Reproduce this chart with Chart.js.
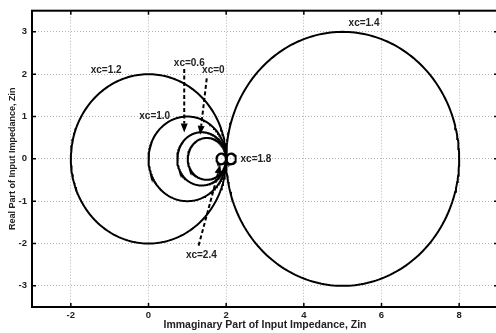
<!DOCTYPE html>
<html>
<head>
<meta charset="utf-8">
<script src="https://cdn.jsdelivr.net/npm/chart.js@4.4.1/dist/chart.umd.min.js"></script>
<style>
  html, body { margin: 0; padding: 0; background: #fff; overflow: hidden; }
  #wrap { width: 496px; height: 333px; overflow: hidden; }
  canvas { display: block; }
</style>
</head>
<body>
<div id="wrap"><canvas id="c" width="498" height="333"></canvas></div>
<script>
// Impedance loci for several values of xc; each locus is a circle whose
// diameter lies on the horizontal axis between these two crossings.
const seriesNames = ['xc=0', 'xc=0.6', 'xc=1.0', 'xc=1.2', 'xc=1.4', 'xc=1.8', 'xc=2.4'];
const crossLeft   = [1.01, 0.74, 0.0, -2.0, 2.0, 2.0, 1.75];
const crossRight  = [2.0,  2.0,  2.0,  2.0, 8.0, 2.25, 2.0];

const xTicks = [-2, 0, 2, 4, 6, 8];
const yTicks = [-3, -2, -1, 0, 1, 2, 3];

// Curve labels: text and anchor (data units)
const labelText = ['xc=1.2', 'xc=1.0', 'xc=0.6', 'xc=0', 'xc=1.4', 'xc=1.8', 'xc=2.4'];
const labelX    = [-1.09, 0.16, 1.05, 1.67, 5.55, 2.37, 1.36];
const labelY    = [2.09, 1.01, 2.27, 2.09, 3.21, -0.02, -2.27];
const labelAlign = ['center', 'center', 'center', 'center', 'center', 'left', 'center'];

// Dashed pointer arrows: start -> tip (data units)
const arrowFromX = [0.92, 1.50, 1.29];
const arrowFromY = [2.12, 1.90, -2.05];
const arrowToX   = [0.92, 1.33, 1.85];
const arrowToY   = [0.62, 0.57, -0.14];

const FONT = "'Liberation Sans', Arial, Helvetica, sans-serif";

function circleOutline(a, b) {
  const cx = (a + b) / 2, r = (b - a) / 2, pts = [];
  const n = 240;
  for (let i = 0; i <= n; i++) {
    const t = (i / n) * 2 * Math.PI;
    pts.push({ x: cx + r * Math.cos(t), y: r * Math.sin(t) });
  }
  return pts;
}

const datasets = seriesNames.map((name, i) => ({
  label: name,
  data: circleOutline(crossLeft[i], crossRight[i]),
  showLine: true,
  borderColor: '#000',
  borderWidth: 2,
  pointRadius: 0,
  fill: false,
  tension: 0
}));

const framePlugin = {
  id: 'frame',
  afterDatasetsDraw(chart) {
    const { ctx, chartArea: a, scales: { x, y } } = chart;
    ctx.save();
    // annotation arrows
    ctx.strokeStyle = '#000';
    ctx.fillStyle = '#000';
    for (let i = 0; i < arrowFromX.length; i++) {
      const x0 = x.getPixelForValue(arrowFromX[i]), y0 = y.getPixelForValue(arrowFromY[i]);
      const x1 = x.getPixelForValue(arrowToX[i]),   y1 = y.getPixelForValue(arrowToY[i]);
      const ang = Math.atan2(y1 - y0, x1 - x0);
      const headLen = 9, headW = 3.5;
      const bx = x1 - headLen * Math.cos(ang), by = y1 - headLen * Math.sin(ang);
      ctx.lineWidth = 2;
      ctx.setLineDash([4, 2.5]);
      ctx.beginPath(); ctx.moveTo(x0, y0); ctx.lineTo(bx, by); ctx.stroke();
      ctx.setLineDash([]);
      ctx.beginPath();
      ctx.moveTo(x1, y1);
      ctx.lineTo(bx + headW * Math.sin(ang), by - headW * Math.cos(ang));
      ctx.lineTo(bx - headW * Math.sin(ang), by + headW * Math.cos(ang));
      ctx.closePath(); ctx.fill();
    }
    // curve labels
    ctx.font = 'bold 10px ' + FONT;
    ctx.textBaseline = 'middle';
    ctx.fillStyle = '#222';
    for (let i = 0; i < labelText.length; i++) {
      ctx.textAlign = labelAlign[i];
      ctx.fillText(labelText[i], x.getPixelForValue(labelX[i]), y.getPixelForValue(labelY[i]));
    }
    // axes box with inward tick marks
    ctx.strokeStyle = '#000';
    ctx.lineWidth = 2;
    ctx.strokeRect(a.left, a.top, a.right - a.left, a.bottom - a.top);
    ctx.lineWidth = 1.5;
    const tl = 4;
    ctx.beginPath();
    xTicks.forEach(v => {
      const px = x.getPixelForValue(v);
      ctx.moveTo(px, a.bottom); ctx.lineTo(px, a.bottom - tl);
      ctx.moveTo(px, a.top); ctx.lineTo(px, a.top + tl);
    });
    yTicks.forEach(v => {
      const py = y.getPixelForValue(v);
      ctx.moveTo(a.left, py); ctx.lineTo(a.left + tl, py);
      ctx.moveTo(a.right, py); ctx.lineTo(a.right - tl, py);
    });
    ctx.stroke();
    ctx.restore();
  }
};

new Chart(document.getElementById('c'), {
  type: 'scatter',
  data: { datasets },
  options: {
    responsive: false,
    animation: false,
    events: [],
    layout: { padding: { top: 8, right: 0, bottom: 0, left: 0 } },
    plugins: { legend: { display: false }, tooltip: { enabled: false } },
    scales: {
      x: {
        type: 'linear', min: -3, max: 9,
        afterBuildTicks: s => { s.ticks = xTicks.map(v => ({ value: v })); },
        afterFit: s => { s.height = 26; },
        ticks: { color: '#222', padding: 3, font: { family: FONT, size: 9.5, weight: 'bold' } },
        grid: { color: '#b4b4b4', lineWidth: 1, drawTicks: false },
        border: { display: false, dash: [1, 2] },
        title: { display: true, text: 'Immaginary Part of Input Impedance, Zin', color: '#222',
                 padding: { top: 0, bottom: 2 }, font: { family: FONT, size: 10.5, weight: 'bold' } }
      },
      y: {
        type: 'linear', min: -3.5, max: 3.5,
        afterBuildTicks: s => { s.ticks = yTicks.map(v => ({ value: v })); },
        afterFit: s => { s.width = 32; },
        ticks: { color: '#222', padding: 5, font: { family: FONT, size: 9.5, weight: 'bold' } },
        grid: { color: '#b4b4b4', lineWidth: 1, drawTicks: false },
        border: { display: false, dash: [1, 2] },
        title: { display: true, text: 'Real Part of Input Impedance, Zin', color: '#222',
                 padding: { top: 7, bottom: 0 }, font: { family: FONT, size: 9, weight: 'bold' } }
      }
    }
  },
  plugins: [framePlugin]
});
</script>
</body>
</html>
